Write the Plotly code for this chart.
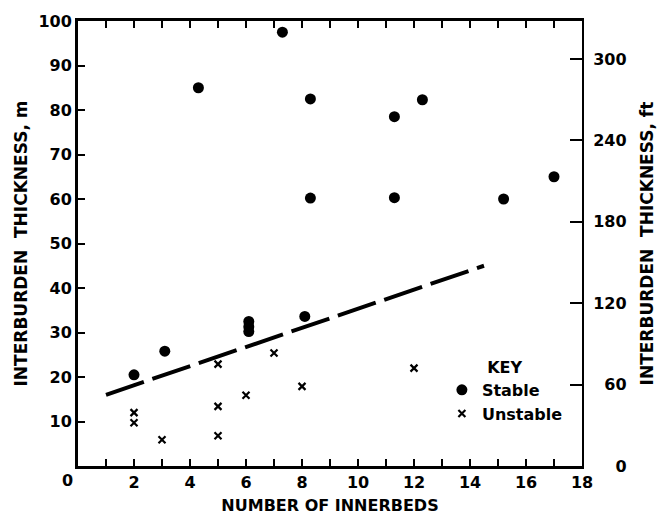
import plotly.graph_objects as go

# ---- data ----
stable_x = [2.0, 3.1, 4.3, 6.1, 6.1, 6.1, 7.3, 8.1, 8.3, 8.3, 11.3, 11.3, 12.3, 15.2, 17.0]
stable_y = [20.5, 25.8, 85.0, 32.5, 31.3, 30.2, 97.5, 33.6, 82.5, 60.2, 78.5, 60.3, 82.3, 60.0, 65.0]

unstable_x = [2.0, 2.0, 3.0, 5.0, 5.0, 5.0, 6.0, 7.0, 8.0, 12.0]
unstable_y = [12.0, 9.7, 5.9, 22.9, 13.4, 6.8, 15.9, 25.4, 17.9, 22.0]

trend_x = [1.0, 14.5]
trend_y = [16.0, 45.0]

x_ticks = list(range(1, 19))
x_ticktext = [str(v) if v % 2 == 0 else "" for v in x_ticks]
y_ticks = list(range(10, 101, 10))
ft_ticks = [0, 60, 120, 180, 240, 300]
M_TO_FT = 1 / 0.3048

FONT = "DejaVu Sans"
FS = "\u2007"  # figure space for right alignment of right-axis labels
NB = "\u00a0"
ft_text = [FS * (3 - len(str(v))) + str(v) for v in ft_ticks]

tickfont = dict(family=FONT, size=16, weight="bold")
titlefont = dict(family=FONT, size=16, weight="bold")
ytitlefont = dict(family=FONT, size=17, weight="bold")

fig = go.Figure()

fig.add_trace(go.Scatter(
    x=trend_x, y=trend_y, mode="lines",
    line=dict(color="black", width=4, dash="40px,9px"),
    showlegend=False, hoverinfo="skip"))

fig.add_trace(go.Scatter(
    x=stable_x, y=stable_y, mode="markers", name="Stable",
    marker=dict(symbol="circle", size=11, color="black")))

fig.add_trace(go.Scatter(
    x=unstable_x, y=unstable_y, mode="markers", name="Unstable",
    marker=dict(symbol="x-thin", size=7, color="black",
                line=dict(color="black", width=2.2))))

# invisible trace to attach the ft axis
fig.add_trace(go.Scatter(x=[None], y=[None], yaxis="y2", showlegend=False))

fig.update_layout(
    width=659, height=521,
    margin=dict(l=78, r=77, t=21, b=55, autoexpand=False),
    paper_bgcolor="white", plot_bgcolor="white",
    font=dict(family=FONT, size=16, color="black"),
    xaxis=dict(
        range=[0, 18], tickvals=x_ticks, ticktext=x_ticktext,
        ticks="inside", ticklen=7, tickwidth=2, tickcolor="black",
        showline=True, linewidth=3, linecolor="black", mirror="ticks",
        showgrid=False, zeroline=False, automargin=False,
        tickfont=tickfont,
        title=dict(text="NUMBER OF INNERBEDS", font=titlefont, standoff=9),
    ),
    yaxis=dict(
        range=[0, 100], tickvals=y_ticks,
        ticks="inside", ticklen=7, tickwidth=2, tickcolor="black",
        showline=True, linewidth=3, linecolor="black",
        showgrid=False, zeroline=False, automargin=False,
        tickfont=tickfont,
        title=dict(text="INTERBURDEN" + NB + " THICKNESS, m", font=ytitlefont, standoff=7),
    ),
    yaxis2=dict(
        overlaying="y", side="right",
        range=[0, 100 * M_TO_FT], tickvals=ft_ticks, ticktext=ft_text,
        ticks="inside", ticklen=12, tickwidth=2, tickcolor="black",
        showline=True, linewidth=2, linecolor="black",
        showgrid=False, zeroline=False, automargin=False,
        tickfont=tickfont, ticklabelstandoff=6,
        title=dict(text="INTERBURDEN" + NB + " THICKNESS, ft", font=ytitlefont, standoff=15),
    ),
    legend=dict(
        x=0.722, y=0.256, xanchor="left", yanchor="top",
        bgcolor="rgba(0,0,0,0)",
        title=dict(text="KEY", side="top center", font=dict(family=FONT, size=16, weight="bold")),
        font=dict(family=FONT, size=16, weight="bold"),
    ),
    annotations=[dict(
        x=0, y=0, xref="x", yref="paper", text="0", showarrow=False,
        xanchor="center", yanchor="top", xshift=-11, yshift=-3,
        font=tickfont)],
)

fig.write_html("out.html")
